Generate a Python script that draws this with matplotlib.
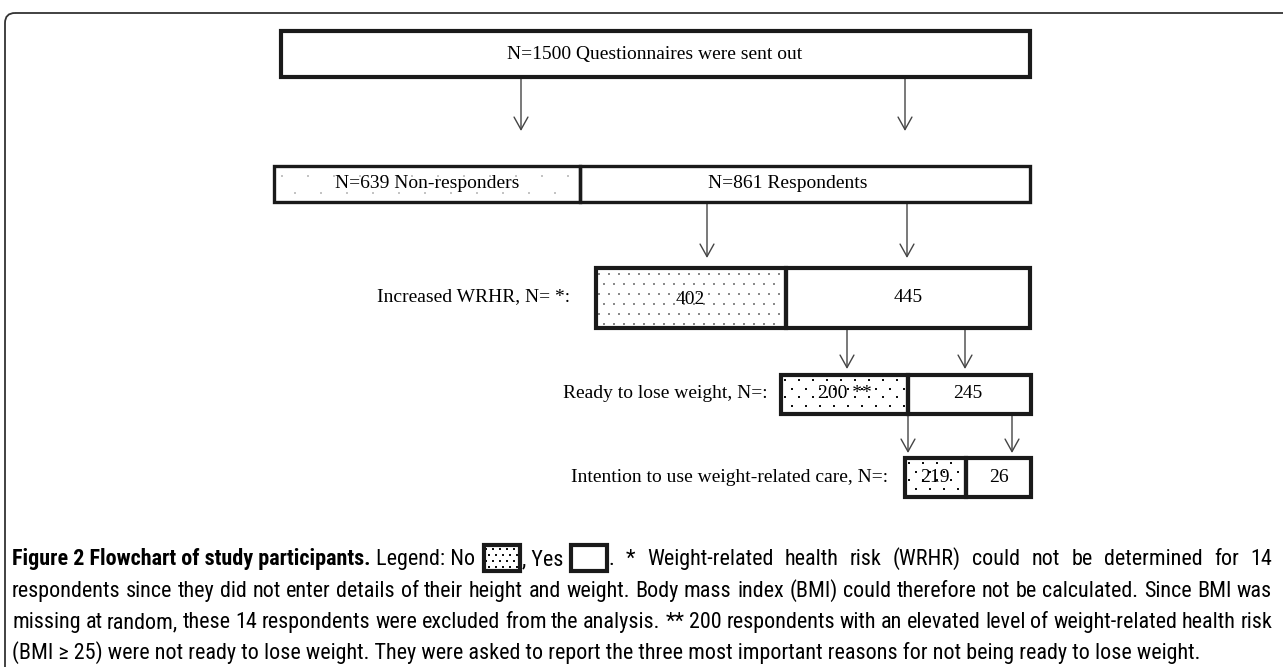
import numpy as np
import matplotlib.pyplot as plt
from matplotlib.patches import Rectangle, FancyBboxPatch
from matplotlib import font_manager

# counts in the flowchart
total_sent = 1500
non_resp, resp = 639, 861
wrhr_no, wrhr_yes = 402, 445
ready_no, ready_yes = 200, 245
care_no, care_yes = 219, 26

row_labels = ["Increased WRHR, N= *:", "Ready to lose weight, N=:",
              "Intention to use weight-related care, N=:"]

caption_title = "Figure 2 Flowchart of study participants."
caption_lines = [
    "respondents since they did not enter details of their height and weight. Body mass index (BMI) could therefore not be calculated. Since BMI was",
    "missing at random, these 14 respondents were excluded from the analysis. ** 200 respondents with an elevated level of weight-related health risk",
    "(BMI \u2265 25) were not ready to lose weight. They were asked to report the three most important reasons for not being ready to lose weight.",
]
caption_first_tail = ". * Weight-related health risk (WRHR) could not be determined for 14"

W, H = 1283, 667
fig = plt.figure(figsize=(W / 100, H / 100), dpi=100)
ax = fig.add_axes([0, 0, 1, 1])
ax.set_xlim(0, W)
ax.set_ylim(H, 0)
ax.axis("off")
renderer = fig.canvas.get_renderer()

SERIF = "Liberation Serif"
installed = {f.name for f in font_manager.fontManager.ttflist}
SANS = [f for f in ["Roboto Condensed", "Liberation Sans Narrow", "Roboto", "DejaVu Sans"]
        if f in installed] or ["DejaVu Sans"]


def text_w(t):
    return t.get_window_extent(renderer).width


def fit_size(s, family, target, weight="normal"):
    t = ax.text(0, 0, s, fontsize=10, family=family, weight=weight)
    w = text_w(t)
    t.remove()
    return 10 * target / w


# outer frame
frame = FancyBboxPatch((5, 13), 1400, 800, boxstyle="round,pad=0,rounding_size=10",
                       fill=False, ec="#333333", lw=1.3)
ax.add_patch(frame)


def dots(x0, x1, y0, y1, dx, dy, color, size):
    ys = np.arange(y0 + dy * 0.6, y1 - 1, dy)
    for i, y in enumerate(ys):
        off = dx / 2 if i % 2 else 0
        xs = np.arange(x0 + dx * 0.3 + off, x1 - 2, dx)
        ax.scatter(xs, np.full_like(xs, y), s=size, c=color, marker="s",
                   linewidths=0, zorder=2)


def box(x0, x1, y0, y1, lw=2.4):
    ax.add_patch(Rectangle((x0, y0), x1 - x0, y1 - y0, fill=False, ec="#1a1a1a",
                           lw=lw, zorder=4))


def arrow(x, ya, yb):
    ax.annotate("", xy=(x, yb), xytext=(x, ya),
                arrowprops=dict(arrowstyle="->,head_length=0.9,head_width=0.5",
                                color="#444444", lw=1.0, mutation_scale=10,
                                shrinkA=0, shrinkB=0))


fs = fit_size(f"N={total_sent} Questionnaires were sent out", SERIF, 294)

# row 1
box(281, 1030, 31, 77, lw=3)
ax.text(655, 54, f"N={total_sent} Questionnaires were sent out", family=SERIF,
        fontsize=fs, ha="center", va="center")
arrow(521, 78, 131)
arrow(905, 78, 131)

# row 2
dots(274, 580, 166, 202, 26, 17, "#c4c4c4", 3)
box(274, 580, 166, 202)
box(580, 1030, 166, 202)
ax.text(427, 184, f"N={non_resp} Non-responders", family=SERIF, fontsize=fs,
        ha="center", va="center", zorder=5)
ax.text(788, 184, f"N={resp} Respondents", family=SERIF, fontsize=fs,
        ha="center", va="center", zorder=5)
arrow(707, 203, 258)
arrow(907, 203, 258)

# row 3
dots(596, 786, 268, 328, 10, 10, "#8a8a8a", 3.5)
box(596, 786, 268, 328, lw=3)
box(786, 1030, 268, 328, lw=3)
ax.text(570, 297, row_labels[0], family=SERIF, fontsize=fs, ha="right", va="center")
ax.text(690, 299, str(wrhr_no), family=SERIF, fontsize=fs, ha="center", va="center", zorder=5)
ax.text(908, 297, str(wrhr_yes), family=SERIF, fontsize=fs, ha="center", va="center")
arrow(847, 329, 369)
arrow(965, 329, 369)

# row 4
dots(781, 908, 375, 414, 14, 8.5, "#111111", 4)
box(781, 908, 375, 414, lw=3)
box(908, 1031, 375, 414, lw=3)
ax.text(768, 394, row_labels[1], family=SERIF, fontsize=fs, ha="right", va="center")
ax.text(845, 394, f"{ready_no} **", family=SERIF, fontsize=fs, ha="center", va="center", zorder=5)
ax.text(968, 393, str(ready_yes), family=SERIF, fontsize=fs, ha="center", va="center")
arrow(908, 414, 453)
arrow(1012, 414, 453)

# row 5
dots(905, 966, 458, 497, 14, 8.5, "#111111", 4)
box(905, 966, 458, 497, lw=3)
box(966, 1031, 458, 497, lw=3)
ax.text(888, 478, row_labels[2], family=SERIF, fontsize=fs, ha="right", va="center")
ax.text(935, 478, str(care_no), family=SERIF, fontsize=fs, ha="center", va="center", zorder=5)
ax.text(999, 478, str(care_yes), family=SERIF, fontsize=fs, ha="center", va="center")

# caption (justified, like the journal layout)
cfs = fit_size(caption_lines[1], SANS, 1258)
x0, x_right = 12, 1272
y_lines = [558, 590, 621, 652]
base = 7  # baseline sits this far below the line centre


def ctext(x, y, s, **kw):
    return ax.text(x, y + base, s, family=SANS, fontsize=cfs, va="baseline", **kw)


def justify(words, xa, xb, y):
    ts = [ctext(0, y, w) for w in words]
    widths = [text_w(t) for t in ts]
    gap = (xb - xa - sum(widths)) / max(len(words) - 1, 1)
    xx = xa
    for t, w in zip(ts, widths):
        t.set_x(xx)
        xx += w + gap


y = y_lines[0]
t = ctext(x0, y, caption_title, weight="bold")
x = x0 + text_w(t) + 6
t = ctext(x, y, "Legend: No")
x += text_w(t) + 8
sw, sh = 36, 26
dots(x, x + sw, y - sh / 2, y + sh / 2, 7, 6, "#111111", 3)
box(x, x + sw, y - sh / 2, y + sh / 2, lw=3)
x += sw + 2
t = ctext(x, y, ", Yes")
x += text_w(t) + 8
box(x, x + sw, y - sh / 2, y + sh / 2, lw=3)
x += sw + 2
justify(caption_first_tail.split(" "), x, x_right, y)
for yy, line in zip(y_lines[1:3], caption_lines[:2]):
    justify(line.split(" "), x0, x_right, yy)
ctext(x0, y_lines[3], caption_lines[2])

fig.savefig("out.png", dpi=100)
